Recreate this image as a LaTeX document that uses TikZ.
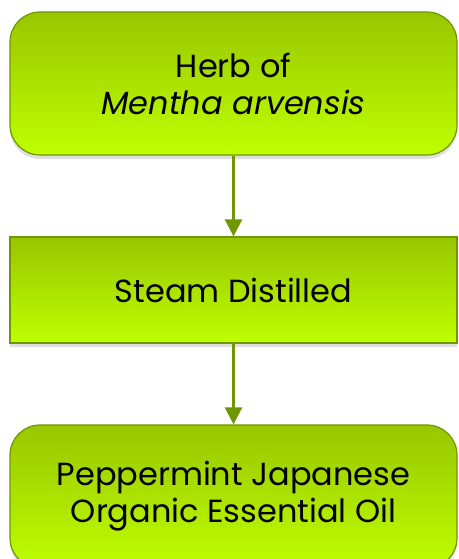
\documentclass[tikz,border=0pt]{standalone}
\usepackage{fontspec}
\setmainfont{Poppins}
\usetikzlibrary{arrows.meta, positioning, shadows}

\definecolor{limetop}{RGB}{152,198,0}
\definecolor{limebot}{RGB}{190,255,0}
\definecolor{limeedge}{RGB}{112,150,0}

\begin{document}
\begin{tikzpicture}[x=1pt, y=-1pt,
    stepbox/.style={draw=limeedge, line width=1.2pt, top color=limetop, bottom color=limebot,
      minimum width=447pt, align=center, font=\fontsize{32}{37}\selectfont,
      drop shadow={shadow xshift=0pt, shadow yshift=-4pt, opacity=0.25}},
    roundbox/.style={stepbox, rounded corners=30pt},
    link/.style={-{Triangle[length=17pt, width=17pt]}, draw=limeedge, line width=2.5pt}]
    \useasboundingbox (0,0) rectangle (458,559);
    \node[roundbox, minimum height=143pt] (herb) at (233.5, 83.5) {Herb of\\\textit{Mentha arvensis}};
    \node[stepbox, minimum height=106pt] (steam) at (233.5, 290) {Steam Distilled};
    \node[roundbox, minimum height=143pt] (oil) at (233.5, 496.5) {Peppermint Japanese\\Organic Essential Oil};
    \draw[link] (herb) -- (steam);
    \draw[link] (steam) -- (oil);
\end{tikzpicture}
\end{document}
